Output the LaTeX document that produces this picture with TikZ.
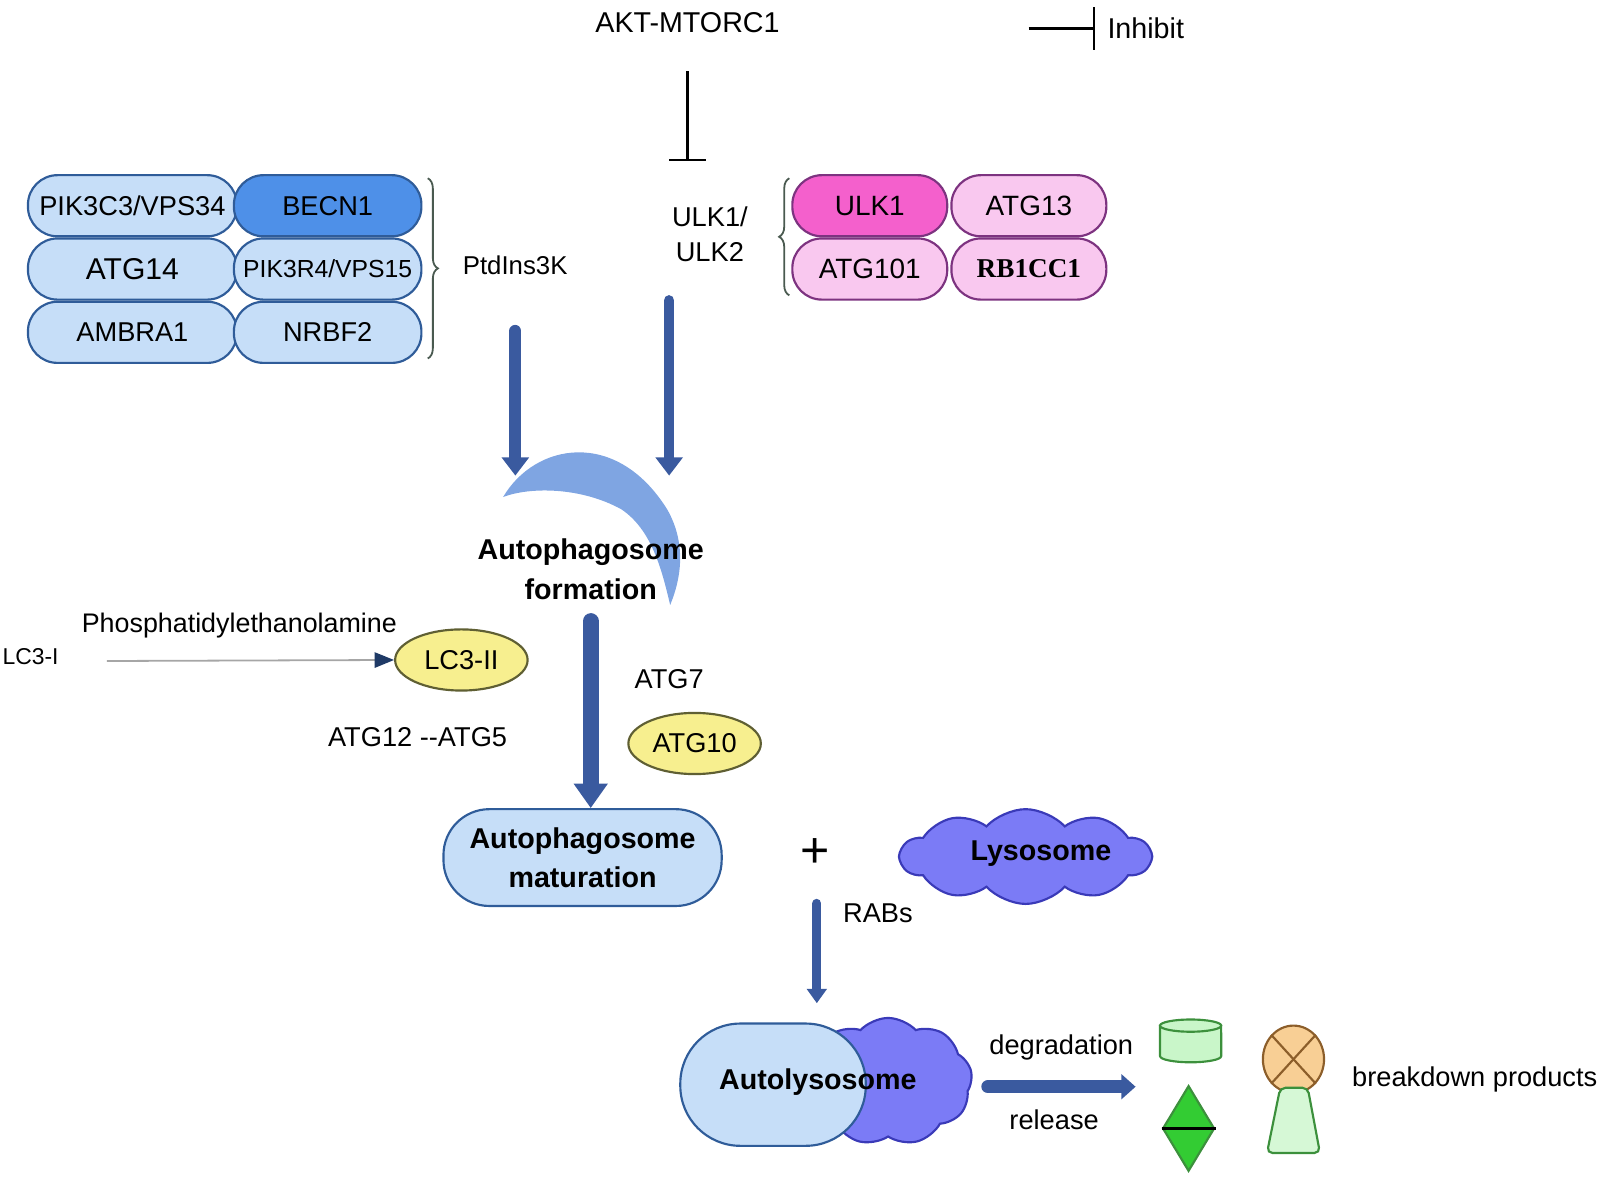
\documentclass[tikz,border=0pt]{standalone}
\usepackage{fontspec}
\setmainfont{Liberation Sans}
\newfontfamily\serifname{Liberation Serif}
\usetikzlibrary{arrows.meta,positioning,shapes.geometric,shapes.symbols,decorations.pathreplacing}

\definecolor{pillblue}{HTML}{C6DEF8}
\definecolor{pillline}{HTML}{2F5C99}
\definecolor{becnblue}{HTML}{4E90E8}
\definecolor{ulkpink}{HTML}{F9C8EF}
\definecolor{ulkmag}{HTML}{F460CC}
\definecolor{ulkline}{HTML}{7D3380}
\definecolor{arrowblue}{HTML}{3A5A9F}
\definecolor{crescent}{HTML}{7FA5E2}
\definecolor{lcyellow}{HTML}{F7EF8F}
\definecolor{yellowline}{HTML}{5F5F33}
\definecolor{lysoviolet}{HTML}{7B7BF6}
\definecolor{lysoline}{HTML}{3A3AB8}
\definecolor{greenlight}{HTML}{C9F6C9}
\definecolor{greenline}{HTML}{3C903C}
\definecolor{greenbright}{HTML}{33CC33}
\definecolor{orangelight}{HTML}{F8CF95}
\definecolor{orangeline}{HTML}{8C5E2A}
\definecolor{trapgreen}{HTML}{D6F8D6}
\definecolor{braceline}{HTML}{4A5A50}
\definecolor{arrownavy}{HTML}{1F3A66}

\begin{document}
\begin{tikzpicture}[x=0.01cm,y=-0.01cm,
  every node/.style={font=\fontsize{7.6}{9}\selectfont},
  bpill/.style={draw=pillline,fill=pillblue,line width=0.6pt,rounded corners=2.9mm,
    minimum width=2.05cm,minimum height=0.6cm,inner sep=0pt},
  ppill/.style={draw=ulkline,fill=ulkpink,line width=0.6pt,rounded corners=2.9mm,
    minimum width=1.52cm,minimum height=0.6cm,inner sep=0pt,font=\fontsize{7.8}{9}\selectfont},
  yellowegg/.style={ellipse,draw=yellowline,fill=lcyellow,line width=0.6pt,
    minimum width=1.3cm,minimum height=0.6cm,inner sep=0pt},
  heading/.style={font=\bfseries\fontsize{8}{11}\selectfont,align=center},
  fatarrow/.style={draw=arrowblue,line width=1.2mm,line cap=round,
    -{Triangle[width=2.6mm,length=1.8mm]}},
  inhibit/.style={draw=black,line width=0.6pt,-{Bar[width=3.6mm]}},
  curly/.style={decorate,decoration={brace,amplitude=1mm},draw=braceline,line width=0.5pt},
  puff/.style={cloud,cloud puffs=10,cloud puff arc=95,draw=lysoline,fill=lysoviolet,
    line width=0.6pt,inner sep=0pt}]
\useasboundingbox (0,0) rectangle (1570,1157);

% PtdIns3K complex
\node[bpill] (pik3c3) at (130,202) {PIK3C3/VPS34};
\node[bpill,fill=becnblue,minimum width=1.84cm] (becn1) [right=-0.05cm of pik3c3] {BECN1};
\node[bpill,font=\fontsize{8.4}{9}\selectfont] (atg14) [below=0pt of pik3c3] {ATG14};
\node[bpill,minimum width=1.84cm,font=\fontsize{6.9}{9}\selectfont] (pik3r4) [right=-0.05cm of atg14] {PIK3R4/VPS15};
\node[bpill] (ambra1) [below=0pt of atg14] {AMBRA1};
\node[bpill,minimum width=1.84cm] (nrbf2) [right=-0.05cm of ambra1] {NRBF2};
\draw[curly] (420,175) -- (420,352);
\node[anchor=west,font=\fontsize{7.2}{9}\selectfont] (ptd) at (442,260) {PtdIns3K};

% ULK complex
\node[ppill,fill=ulkmag] (ulk1) at (854,202) {ULK1};
\node[ppill] (atg13) [right=0.02cm of ulk1] {ATG13};
\node[ppill] (atg101) [below=0pt of ulk1] {ATG101};
\node[ppill,font=\serifname\bfseries\fontsize{7.6}{9}\selectfont] (rb1cc1) [right=0.02cm of atg101] {RB1CC1};
\draw[curly] (775,290) -- (775,175);
\node[align=center,font=\fontsize{7.6}{10}\selectfont] (ulk) at (697,230) {ULK1/\\ULK2};

% mTOR and legend
\node[font=\fontsize{8}{9}\selectfont] (akt) at (675,22) {AKT-MTORC1};
\coordinate (akt-out) at (675,70);
\coordinate (ulk-in) at (675,158);
\draw[inhibit] (akt-out) -- (ulk-in);
\node[anchor=west,font=\fontsize{8}{9}\selectfont] (inhibit) at (1075,28) {Inhibit};
\coordinate (legend) at (1010,28);
\draw[inhibit,-{Bar[width=4.2mm]}] (legend) -- (inhibit.west);

% formation
\fill[crescent] (494,488) .. controls (525,435) and (605,420) .. (655,500)
  .. controls (675,535) and (668,570) .. (658,594)
  .. controls (650,560) and (640,520) .. (610,500)
  .. controls (570,478) and (520,478) .. (494,488) -- cycle;
\coordinate (ptd-out) at (506,325);
\coordinate (form-left) at (506,467);
\coordinate (ulk-out) at (657,295);
\coordinate (form-right) at (657,467);
\draw[fatarrow] (ptd-out) -- (form-left);
\draw[fatarrow,line width=1.05mm] (ulk-out) -- (form-right);
\node[heading] (formation) at (580,559) {Autophagosome\\formation};

% LC3 conjugation
\node[font=\fontsize{7.5}{9}\selectfont] (pe) at (235,614) {Phosphatidylethanolamine};
\node[font=\fontsize{6.4}{9}\selectfont] (lc3i) at (30,645) {LC3-I};
\node[yellowegg] (lc3ii) at (453,648) {LC3-II};
\coordinate (lc3-start) at (105,649);
\draw[draw=gray!70,line width=0.5pt,-{Triangle[width=1.5mm,length=1.9mm,color=arrownavy,fill=arrownavy]}] (lc3-start) -- (lc3ii.west);
\node (atg7) at (657,667) {ATG7};
\node[yellowegg] (atg10) at (682,730) {ATG10};
\node (atg12) at (410,724) {ATG12 -{}-ATG5};

% maturation
\node[heading,draw=pillline,fill=pillblue,line width=0.6pt,rounded corners=4.5mm,
  minimum width=2.73cm,minimum height=0.95cm,inner sep=0pt] (maturation) at (572,842) {Autophagosome\\maturation};
\coordinate (form-out) at (580,610);
\draw[fatarrow,line width=1.6mm,-{Triangle[width=3.2mm,length=2.4mm]}] (form-out) -- (form-out |- maturation.north);

% lysosome fusion
\node[font=\fontsize{14}{14}\selectfont] (plus) at (800,838) {+};
\node[puff,minimum width=2.45cm,minimum height=0.93cm] (lysosome) at (1007,841) {};
\node[heading] (lysolabel) at (1022,838) {Lysosome};
\coordinate (rab-start) at (802,887);
\coordinate (rab-end) at (802,985);
\draw[fatarrow,line width=0.9mm,-{Triangle[width=1.9mm,length=1.4mm]}] (rab-start) -- (rab-end);
\node (rabs) at (862,897) {RABs};

% autolysosome
\node[puff,cloud puffs=9,minimum width=1.65cm,minimum height=1.25cm] (autocloud) at (872,1062) {};
\node[draw=pillline,fill=pillblue,line width=0.6pt,rounded corners=5.9mm,
  minimum width=1.82cm,minimum height=1.2cm,inner sep=0pt] (autopill) at (759,1065) {};
\node[heading] (autolabel) at (803,1062) {Autolysosome};
\coordinate (deg-start) at (970,1067);
\coordinate (deg-end) at (1115,1067);
\draw[fatarrow,line width=1.3mm,-{Triangle[width=2.4mm,length=1.4mm]}] (deg-start) -- (deg-end);
\node (degradation) at (1042,1028) {degradation};
\node (release) at (1035,1099) {release};

% breakdown products
\filldraw[draw=greenline,fill=greenlight,line width=0.6pt]
  (1139,1007) -- (1139,1037) arc[start angle=180,end angle=360,x radius=3mm,y radius=0.6mm]
  -- (1199,1007) -- cycle;
\filldraw[draw=greenline,fill=greenlight,line width=0.6pt]
  (1169,1007) ellipse[x radius=3mm,y radius=0.6mm];
\node[diamond,draw=greenline,fill=greenbright,line width=0.6pt,
  minimum width=0.51cm,minimum height=0.84cm,inner sep=0pt] (diam) at (1167,1108) {};
\draw[line width=1.1pt] (diam.west) -- (diam.east);
\node[ellipse,draw=orangeline,fill=orangelight,line width=0.6pt,
  minimum width=0.6cm,minimum height=0.66cm,inner sep=0pt] (orb) at (1270,1040) {};
\draw[orangeline,line width=0.6pt] (orb.north west) -- (orb.south east);
\draw[orangeline,line width=0.6pt] (orb.north east) -- (orb.south west);
\filldraw[draw=greenline,fill=trapgreen,line width=0.6pt,rounded corners=1.5pt]
  (1257,1068) -- (1284,1068) -- (1296,1132) -- (1244,1132) -- cycle;
\node (products) at (1448,1060) {breakdown products};
\end{tikzpicture}
\end{document}
